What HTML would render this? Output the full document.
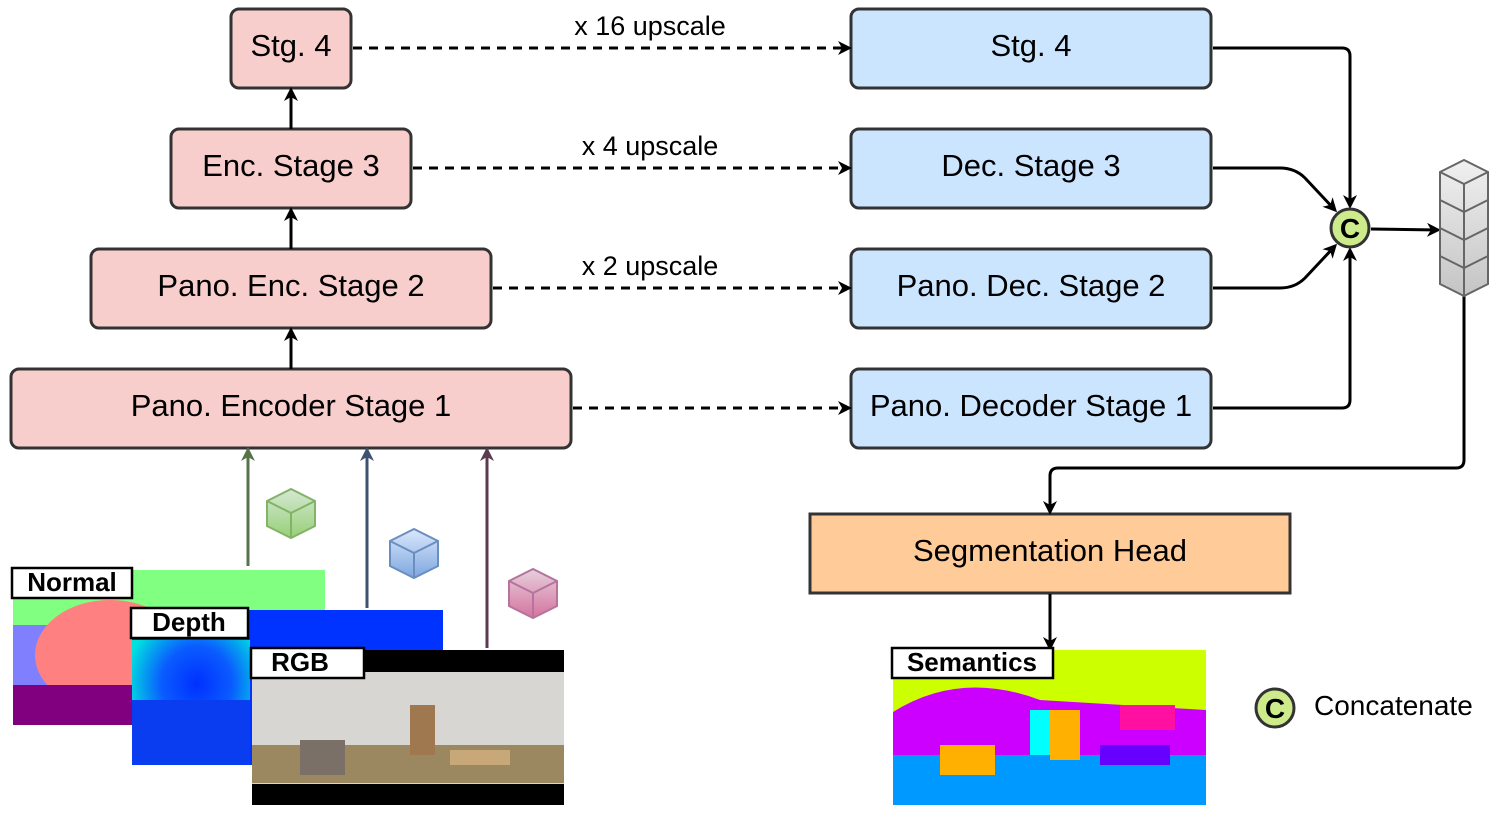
<!DOCTYPE html>
<html><head><meta charset="utf-8"><style>
html,body{margin:0;padding:0;background:#fff;}
svg{display:block;font-family:"Liberation Sans",Arial,sans-serif;}
</style></head><body>
<svg width="1498" height="816" viewBox="0 0 1498 816" xmlns="http://www.w3.org/2000/svg">
<defs>
<marker id="ab" markerWidth="14" markerHeight="14" refX="11" refY="7" orient="auto" markerUnits="userSpaceOnUse"><path d="M0,0 L14,7 L0,14 L4,7 z" fill="#000"/></marker>
<marker id="ag" markerWidth="14" markerHeight="14" refX="11" refY="7" orient="auto" markerUnits="userSpaceOnUse"><path d="M0,0 L14,7 L0,14 L4,7 z" fill="#56744a"/></marker>
<marker id="au" markerWidth="14" markerHeight="14" refX="11" refY="7" orient="auto" markerUnits="userSpaceOnUse"><path d="M0,0 L14,7 L0,14 L4,7 z" fill="#3d5270"/></marker>
<marker id="ap" markerWidth="14" markerHeight="14" refX="11" refY="7" orient="auto" markerUnits="userSpaceOnUse"><path d="M0,0 L14,7 L0,14 L4,7 z" fill="#5c3a4f"/></marker>
<linearGradient id="gc" x1="0" y1="0" x2="0" y2="1"><stop offset="0" stop-color="#f0f0f0"/><stop offset="1" stop-color="#c4c4c4"/></linearGradient>
<linearGradient id="gg" x1="0" y1="0" x2="0" y2="1"><stop offset="0" stop-color="#d5e8d4"/><stop offset="1" stop-color="#97d077"/></linearGradient>
<linearGradient id="gb" x1="0" y1="0" x2="0" y2="1"><stop offset="0" stop-color="#dae8fc"/><stop offset="1" stop-color="#7ea6e0"/></linearGradient>
<linearGradient id="gp" x1="0" y1="0" x2="0" y2="1"><stop offset="0" stop-color="#e6d0de"/><stop offset="1" stop-color="#d5739d"/></linearGradient>
<radialGradient id="dep" cx="0.55" cy="0.35" r="0.6"><stop offset="0" stop-color="#0030ff"/><stop offset="0.5" stop-color="#0a5cff"/><stop offset="1" stop-color="#00e0e0"/></radialGradient>
</defs>

<g stroke="#333" stroke-width="3">
<rect x="231" y="9" width="120" height="79" rx="8" fill="#f8cecc"/>
<rect x="171" y="129" width="240" height="79" rx="8" fill="#f8cecc"/>
<rect x="91" y="249" width="400" height="79" rx="8" fill="#f8cecc"/>
<rect x="11" y="369" width="560" height="79" rx="8" fill="#f8cecc"/>
<rect x="851" y="9" width="360" height="79" rx="8" fill="#cce5ff"/>
<rect x="851" y="129" width="360" height="79" rx="8" fill="#cce5ff"/>
<rect x="851" y="249" width="360" height="79" rx="8" fill="#cce5ff"/>
<rect x="851" y="369" width="360" height="79" rx="8" fill="#cce5ff"/>
<rect x="810" y="514" width="480" height="79" fill="#ffcc99"/>
</g>
<g font-size="31" text-anchor="middle" fill="#000">
<text x="291" y="56">Stg. 4</text>
<text x="291" y="176">Enc. Stage 3</text>
<text x="291" y="296">Pano. Enc. Stage 2</text>
<text x="291" y="416">Pano. Encoder Stage 1</text>
<text x="1031" y="56">Stg. 4</text>
<text x="1031" y="176">Dec. Stage 3</text>
<text x="1031" y="296">Pano. Dec. Stage 2</text>
<text x="1031" y="416">Pano. Decoder Stage 1</text>
<text x="1050" y="561">Segmentation Head</text>
</g>
<g font-size="27" text-anchor="middle">
<text x="650" y="35">x 16 upscale</text>
<text x="650" y="155">x 4 upscale</text>
<text x="650" y="275">x 2 upscale</text>
</g>

<g stroke="#000" stroke-width="3" fill="none">
<path d="M291 129 V90" marker-end="url(#ab)"/>
<path d="M291 249 V210" marker-end="url(#ab)"/>
<path d="M291 369 V330" marker-end="url(#ab)"/>
<g stroke-dasharray="9,7">
<path d="M353 48 H849" marker-end="url(#ab)"/>
<path d="M413 168 H849" marker-end="url(#ab)"/>
<path d="M493 288 H849" marker-end="url(#ab)"/>
<path d="M573 408 H849" marker-end="url(#ab)"/>
</g>
<path d="M1213 48 H1342 Q1350 48 1350 56 V206" marker-end="url(#ab)"/>
<path d="M1213 168 H1280 Q1295 168 1305 178 L1335 210" marker-end="url(#ab)"/>
<path d="M1213 288 H1280 Q1295 288 1305 278 L1335 246" marker-end="url(#ab)"/>
<path d="M1213 408 H1342 Q1350 408 1350 400 V250" marker-end="url(#ab)"/>
<path d="M1371 229 L1438 230" marker-end="url(#ab)"/>
<path d="M1464 296 V460 Q1464 468 1456 468 H1058 Q1050 468 1050 476 V512" marker-end="url(#ab)"/>
<path d="M1050 594 V648" marker-end="url(#ab)"/>
</g>
<circle cx="1350" cy="228" r="19" fill="#cdeb8b" stroke="#333" stroke-width="3"/>
<text x="1350" y="238" font-size="28" font-weight="bold" text-anchor="middle">C</text>

<g stroke="#666" stroke-width="2" fill="url(#gc)">
<path d="M1440 172 L1464 160 L1488 172 V284 L1464 296 L1440 284 Z"/>
<path d="M1440 172 L1464 184 L1488 172" fill="none"/>
<path d="M1464 184 V296" fill="none"/>
<path d="M1440 200 L1464 212 L1488 200 M1440 228 L1464 240 L1488 228 M1440 256 L1464 268 L1488 256" fill="none"/>
</g>

<path d="M248 566 V450" stroke="#56744a" stroke-width="3" marker-end="url(#ag)"/>
<path d="M367 608 V450" stroke="#3d5270" stroke-width="3" marker-end="url(#au)"/>
<path d="M487 648 V450" stroke="#5c3a4f" stroke-width="3" marker-end="url(#ap)"/>
<g stroke-width="2">
<g stroke="#82b366" fill="url(#gg)"><path d="M267 501 L291 489 L315 501 V526 L291 538 L267 526 Z"/><path d="M267 501 L291 513 L315 501 M291 513 V538" fill="none"/></g>
<g stroke="#6c8ebf" fill="url(#gb)"><path d="M390 541 L414 529 L438 541 V566 L414 578 L390 566 Z"/><path d="M390 541 L414 553 L438 541 M414 553 V578" fill="none"/></g>
<g stroke="#b5739d" fill="url(#gp)"><path d="M509 581 L533 569 L557 581 V606 L533 618 L509 606 Z"/><path d="M509 581 L533 593 L557 581 M533 593 V618" fill="none"/></g>
</g>

<rect x="13" y="570" width="312" height="155" fill="#80ff80"/>
<rect x="13" y="625" width="120" height="100" fill="#8080ff"/>
<ellipse cx="110" cy="655" rx="75" ry="55" fill="#ff8080"/>
<rect x="13" y="685" width="120" height="40" fill="#800080"/>
<rect x="132" y="610" width="311" height="155" fill="#0033ff"/>
<rect x="132" y="640" width="118" height="125" fill="url(#dep)"/>
<rect x="132" y="700" width="118" height="65" fill="#0a3cf0"/>
<rect x="252" y="650" width="312" height="155" fill="#000"/>
<rect x="252" y="672" width="312" height="112" fill="#d8d6d2"/>
<rect x="252" y="745" width="312" height="38" fill="#9c8860"/>
<rect x="300" y="740" width="45" height="35" fill="#7a7068"/>
<rect x="450" y="750" width="60" height="15" fill="#c8a878"/>
<rect x="410" y="705" width="25" height="50" fill="#a07850"/>
<rect x="893" y="650" width="313" height="155" fill="#ccff00"/>
<path d="M893 712 Q960 670 1040 700 L1206 710 V760 H893 Z" fill="#cc00ff"/>
<rect x="893" y="755" width="313" height="50" fill="#0099ff"/>
<rect x="940" y="745" width="55" height="30" fill="#ffb000"/>
<rect x="1030" y="710" width="30" height="45" fill="#00ffff"/>
<rect x="1050" y="710" width="30" height="50" fill="#ffb000"/>
<rect x="1120" y="705" width="55" height="25" fill="#ff10a0"/>
<rect x="1100" y="745" width="70" height="20" fill="#6600ff"/>
<g stroke="#000" stroke-width="2.5" fill="#fff">
<rect x="12" y="568" width="120" height="30"/>
<rect x="131" y="608" width="117" height="30"/>
<rect x="251" y="648" width="113" height="30"/>
<rect x="892" y="648" width="161" height="30"/>
</g>
<g font-size="26" font-weight="bold" text-anchor="middle">
<text x="72" y="591">Normal</text>
<text x="189" y="631">Depth</text>
<text x="300" y="671">RGB</text>
<text x="972" y="671">Semantics</text>
</g>
<circle cx="1275" cy="708" r="19" fill="#cdeb8b" stroke="#333" stroke-width="3"/>
<text x="1275" y="718" font-size="28" font-weight="bold" text-anchor="middle">C</text>
<text x="1314" y="715" font-size="28">Concatenate</text>
</svg>
</body></html>
